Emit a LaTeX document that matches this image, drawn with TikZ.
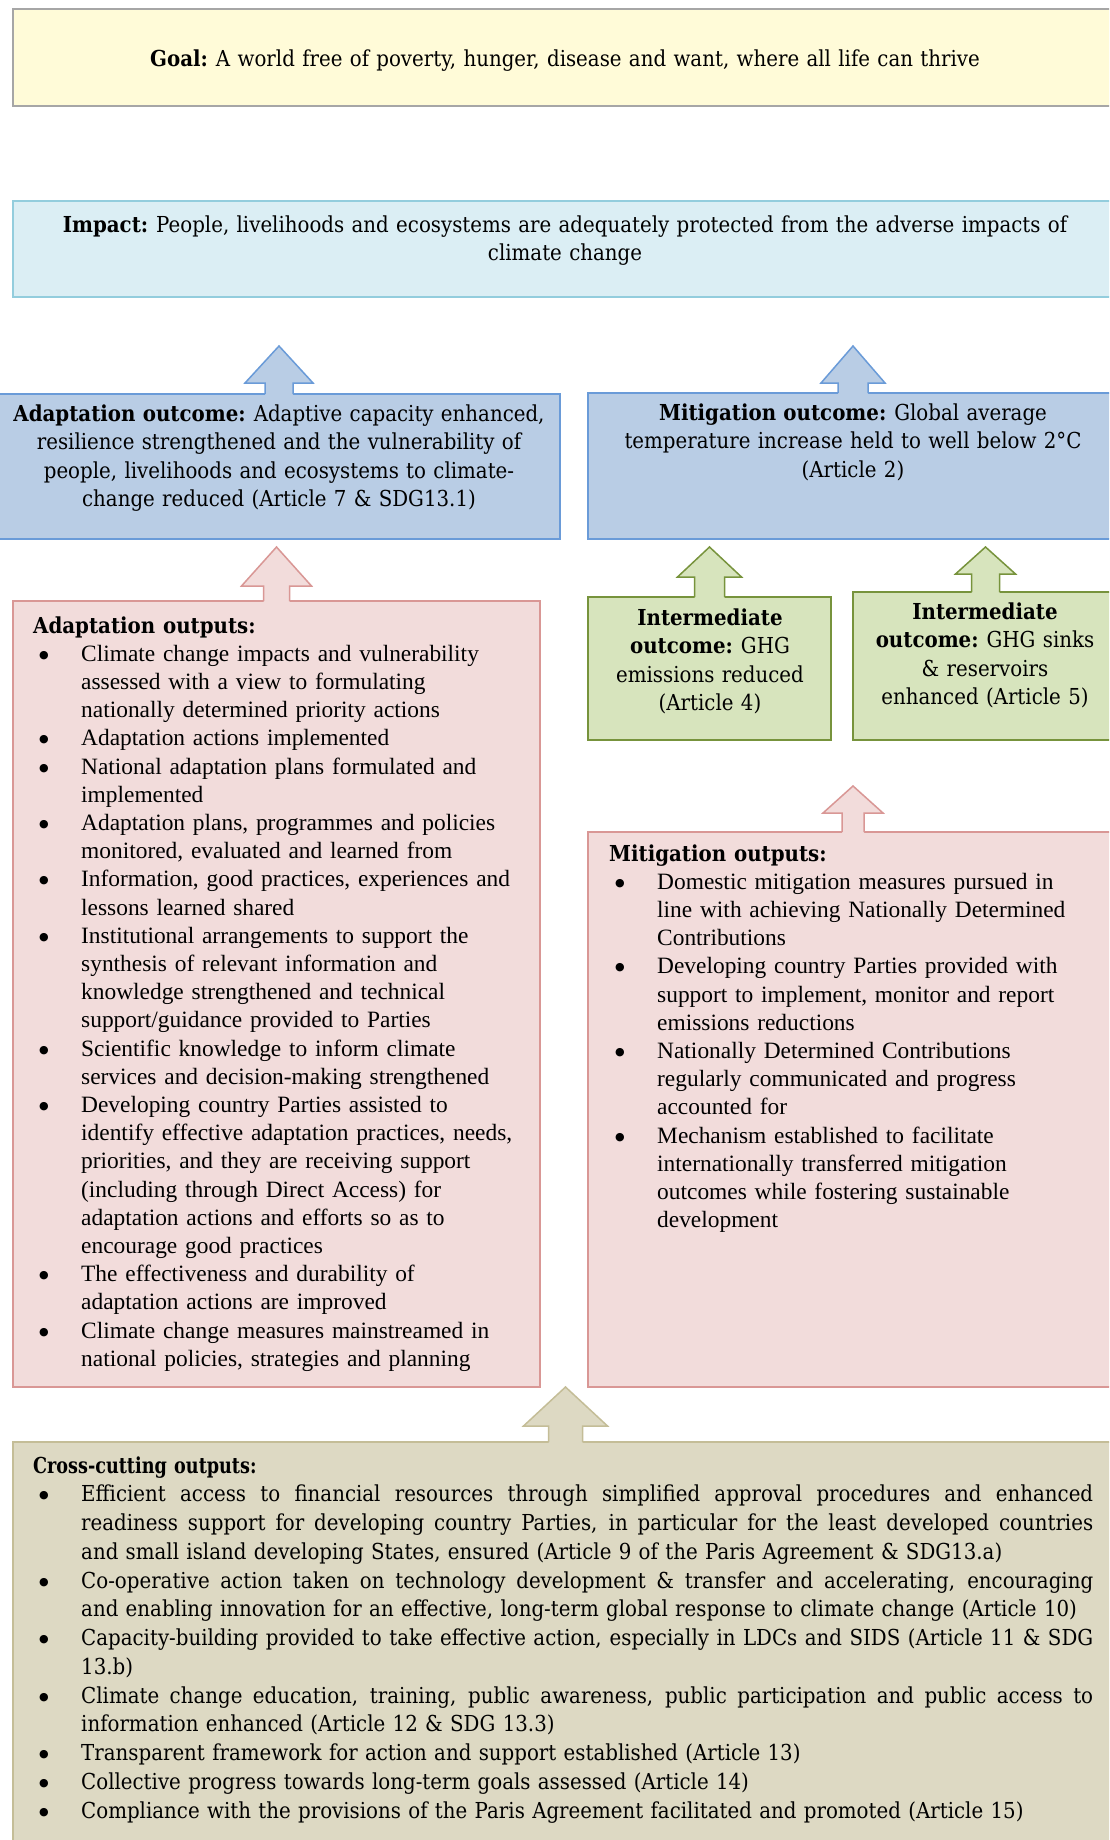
\documentclass[tikz,border=0pt]{standalone}
\usepackage{fontspec}
\setmainfont{Liberation Serif}
\newfontfamily\camb[FakeStretch=0.9, WordSpace=0.8]{DejaVu Serif}
\newfontfamily\cambn[FakeStretch=0.8, WordSpace=0.8]{DejaVu Serif}
\newfontfamily\dvs{DejaVu Sans}
\usetikzlibrary{calc}
\definecolor{goalfill}{HTML}{FFFBD8}
\definecolor{goalline}{HTML}{A6A6A6}
\definecolor{impfill}{HTML}{DBEEF4}
\definecolor{impline}{HTML}{93CDDD}
\definecolor{bluefill}{HTML}{B9CDE5}
\definecolor{blueline}{HTML}{6A9BD8}
\definecolor{pinkfill}{HTML}{F2DCDB}
\definecolor{pinkline}{HTML}{D99795}
\definecolor{greenfill}{HTML}{D7E4BD}
\definecolor{greenline}{HTML}{77933C}
\definecolor{tanfill}{HTML}{DDD9C3}
\definecolor{tanline}{HTML}{C4BD97}
\newlength\jw \setlength\jw{1012pt}
\newcommand\bul{\makebox[48pt][l]{\hspace*{6pt}{\dvs\fontsize{11}{11}\selectfont\raisebox{3pt}{●}}}}
\newcommand\cont{\hspace*{48pt}}
\newcommand\bh[1]{{\bfseries #1}\hspace{-3pt}}
\newcommand\jl[1]{\hbox to \jw{\spaceskip=\fontdimen2\font plus 1fil\relax #1}}
\newcommand\blockarrow[6]{%
  \coordinate (ba) at (#1.north);
  \fill[#6fill] ($(ba)+(-#4,3)$) -- ($(ba)+(-#4,-#2)$) -- ($(ba)+(-#5,-#2)$) -- ($(ba)+(0,-#3)$) -- ($(ba)+(#5,-#2)$) -- ($(ba)+(#4,-#2)$) -- ($(ba)+(#4,3)$) -- cycle;
  \draw[#6line, line width=1.5pt, line join=miter] ($(ba)+(-#4,0)$) -- ($(ba)+(-#4,-#2)$) -- ($(ba)+(-#5,-#2)$) -- ($(ba)+(0,-#3)$) -- ($(ba)+(#5,-#2)$) -- ($(ba)+(#4,-#2)$) -- ($(ba)+(#4,0)$);
}
\begin{document}
\begin{tikzpicture}[x=1pt,y=-1pt,
  box/.style={rectangle, inner sep=0pt, outer sep=0pt, line width=1.5pt, anchor=north west},
  ctxt/.style={inner sep=0pt, anchor=base, align=center, text width=#1},
  ltxt/.style={inner sep=0pt, anchor=base west, align=left, text width=#1},
  cfont/.style={font=\camb\fontsize{22}{28.5}\selectfont},
  tfont/.style={font=\fontsize{23.4}{28.2}\selectfont}]
\useasboundingbox (0,0) rectangle (1109,1840);
\fill[white] (0,0) rectangle (1109,1840);
\clip (0,0) rectangle (1109,1840);

% boxes
\node[box, draw=goalline, fill=goalfill, minimum width=1105pt, minimum height=97pt] (goal) at (13,9) {};
\node[box, draw=impline, fill=impfill, minimum width=1105pt, minimum height=96pt] (impact) at (13,201) {};
\node[box, draw=blueline, fill=bluefill, minimum width=562pt, minimum height=145pt] (adoc) at (-2,394) {};
\node[box, draw=blueline, fill=bluefill, minimum width=530pt, minimum height=146pt] (mioc) at (588,393) {};
\node[box, draw=pinkline, fill=pinkfill, minimum width=527pt, minimum height=786pt] (adop) at (13,601) {};
\node[box, draw=greenline, fill=greenfill, minimum width=243pt, minimum height=143pt] (gr1) at (588,597) {};
\node[box, draw=greenline, fill=greenfill, minimum width=265pt, minimum height=148pt] (gr2) at (853,592) {};
\node[box, draw=pinkline, fill=pinkfill, minimum width=530pt, minimum height=555pt] (miop) at (588,832) {};
\node[box, draw=tanline, fill=tanfill, minimum width=1105pt, minimum height=420pt] (cross) at (13,1442) {};

% block arrows
\blockarrow{adoc}{11}{48}{14}{34}{blue}
\blockarrow{mioc}{10}{47}{15}{32}{blue}
\blockarrow{adop}{15}{54}{13}{35}{pink}
\blockarrow{gr1}{20}{50}{15}{32}{green}
\blockarrow{gr2}{18}{45}{14}{30}{green}
\blockarrow{miop}{19}{46}{11}{30}{pink}
\blockarrow{cross}{16}{55}{17}{42}{tan}

% texts
\node[ctxt=1100pt, cfont] (goalT) at (565,66) {\bh{Goal:} A world free of poverty, hunger, disease and want, where all life can thrive};
\node[ctxt=1100pt, cfont] (impT) at (565,232) {\bh{Impact:} People, livelihoods and ecosystems are adequately protected from the adverse impacts of\\ climate change};
\node[ctxt=600pt, cfont] (adocT) at (279,421) {\bh{Adaptation outcome:} Adaptive capacity enhanced,\\ resilience strengthened and the vulnerability of\\ people, livelihoods and ecosystems to climate-\\ change reduced (Article 7 \& SDG13.1)};
\node[ctxt=600pt, cfont] (miocT) at (853,420) {\bh{Mitigation outcome:} Global average\\ temperature increase held to well below 2°C\\ (Article 2)};
\node[ctxt=300pt, cfont] (gr1T) at (710,625) {{\bfseries Intermediate}\\ \bh{outcome:} GHG\\ emissions reduced\\ (Article 4)};
\node[ctxt=300pt, cfont] (gr2T) at (985,619) {{\bfseries Intermediate}\\ \bh{outcome:} GHG sinks\\ \& reservoirs\\ enhanced (Article 5)};

\node[ltxt=700pt, tfont] (adopT) at (33,633) {{\camb\fontsize{22}{28.2}\selectfont\bfseries Adaptation outputs:}\\
\bul Climate change impacts and vulnerability\\
\cont assessed with a view to formulating\\
\cont nationally determined priority actions\\
\bul Adaptation actions implemented\\
\bul National adaptation plans formulated and\\
\cont implemented\\
\bul Adaptation plans, programmes and policies\\
\cont monitored, evaluated and learned from\\
\bul Information, good practices, experiences and\\
\cont lessons learned shared\\
\bul Institutional arrangements to support the\\
\cont synthesis of relevant information and\\
\cont knowledge strengthened and technical\\
\cont support/guidance provided to Parties\\
\bul Scientific knowledge to inform climate\\
\cont services and decision-making strengthened\\
\bul Developing country Parties assisted to\\
\cont identify effective adaptation practices, needs,\\
\cont priorities, and they are receiving support\\
\cont (including through Direct Access) for\\
\cont adaptation actions and efforts so as to\\
\cont encourage good practices\\
\bul The effectiveness and durability of\\
\cont adaptation actions are improved\\
\bul Climate change measures mainstreamed in\\
\cont national policies, strategies and planning};

\node[ltxt=700pt, tfont] (miopT) at (609,861) {{\camb\fontsize{22}{28.2}\selectfont\bfseries Mitigation outputs:}\\
\bul Domestic mitigation measures pursued in\\
\cont line with achieving Nationally Determined\\
\cont Contributions\\
\bul Developing country Parties provided with\\
\cont support to implement, monitor and report\\
\cont emissions reductions\\
\bul Nationally Determined Contributions\\
\cont regularly communicated and progress\\
\cont accounted for\\
\bul Mechanism established to facilitate\\
\cont internationally transferred mitigation\\
\cont outcomes while fostering sustainable\\
\cont development};

\node[ltxt=1080pt, font=\camb\fontsize{22}{28.75}\selectfont] (crossT) at (33,1473) {{\cambn\bfseries Cross-cutting outputs:}\\
\bul\jl{Efficient access to financial resources through simplified approval procedures and enhanced}\\
\cont\jl{readiness support for developing country Parties, in particular for the least developed countries}\\
\cont and small island developing States, ensured (Article 9 of the Paris Agreement \& SDG13.a)\\
\bul\jl{Co-operative action taken on technology development \& transfer and accelerating, encouraging}\\
\cont and enabling innovation for an effective, long-term global response to climate change (Article 10)\\
\bul\jl{Capacity-building provided to take effective action, especially in LDCs and SIDS (Article 11 \& SDG}\\
\cont 13.b)\\
\bul\jl{Climate change education, training, public awareness, public participation and public access to}\\
\cont information enhanced (Article 12 \& SDG 13.3)\\
\bul Transparent framework for action and support established (Article 13)\\
\bul Collective progress towards long-term goals assessed (Article 14)\\
\bul Compliance with the provisions of the Paris Agreement facilitated and promoted (Article 15)};
\end{tikzpicture}
\end{document}
